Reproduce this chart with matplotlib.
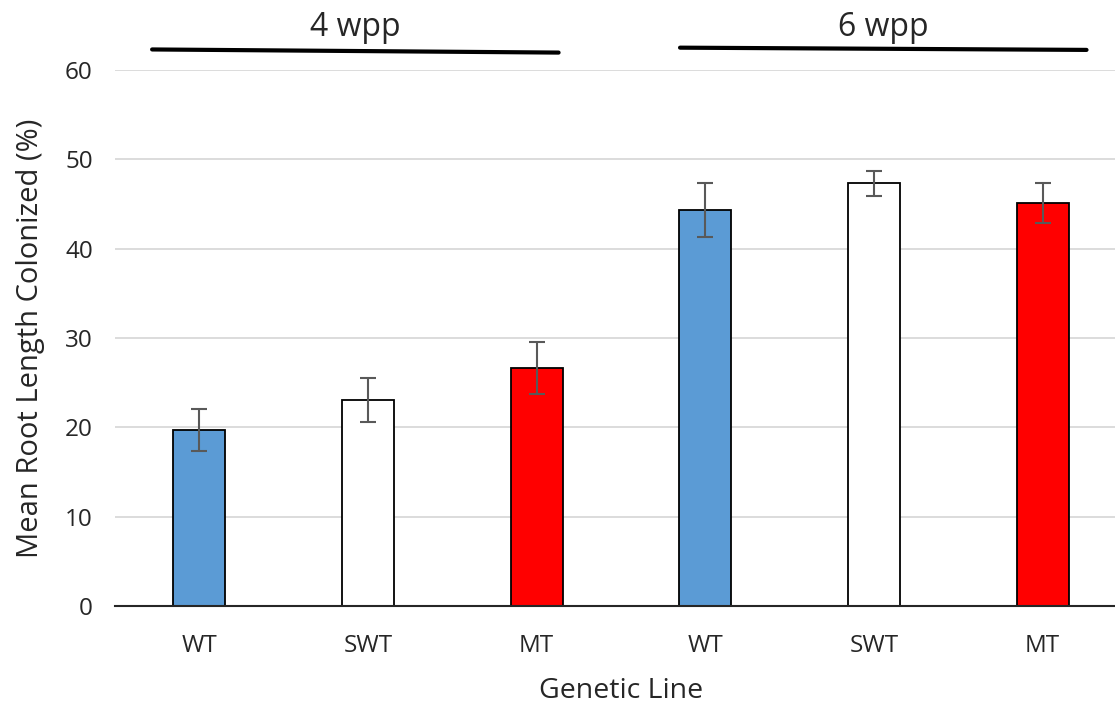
import matplotlib
matplotlib.use("Agg")
import matplotlib.pyplot as plt

categories = ["WT", "SWT", "MT", "WT", "SWT", "MT"]
values = [19.7, 23.1, 26.6, 44.3, 47.3, 45.1]
errors = [2.35, 2.45, 2.9, 3.0, 1.45, 2.25]
colors = ["#5B9BD5", "#FFFFFF", "#FF0000", "#5B9BD5", "#FFFFFF", "#FF0000"]
groups = ["4 wpp", "6 wpp"]
yticks = [0, 10, 20, 30, 40, 50, 60]

plt.rcParams['font.family'] = ['Open Sans', 'DejaVu Sans']

fig = plt.figure(figsize=(11.15, 7.09), dpi=100)
ax = fig.add_axes([115/1115, 1 - 606/709, (1127 - 115)/1115, (606 - 70)/709])

x = list(range(len(categories)))
ax.bar(x, values, width=0.31, color=colors, edgecolor="black", linewidth=1.3, zorder=3)
ax.errorbar(x, values, yerr=errors, fmt="none", ecolor="#595959", elinewidth=1.5,
            capsize=5.8, capthick=1.5, zorder=4)

ax.set_xlim(-0.5, 5.5)
ax.set_ylim(0, 60)
ax.set_yticks(yticks)
ax.set_yticklabels([str(t) for t in yticks], fontsize=17.5, color="#262626")
ax.set_xticks(x)
ax.set_xticklabels(categories, fontsize=17.5, color="#262626")
ax.tick_params(axis="x", length=0, pad=20)
ax.tick_params(axis="y", length=0, pad=16)
ax.grid(axis="y", color="#D9D9D9", linewidth=1.3, zorder=0)
for s in ["top", "right", "left"]:
    ax.spines[s].set_visible(False)
ax.spines["bottom"].set_color("#262626")
ax.spines["bottom"].set_linewidth(1.5)
ax.spines["bottom"].set_zorder(5)

ax.set_xlabel("Genetic Line", fontsize=20.5, color="#262626", labelpad=14)
ax.set_ylabel("Mean Root Length Colonized (%)", fontsize=21, color="#262626", labelpad=14)

# group lines and labels
group_spans = [(-0.28, 2.13, 62.3, 61.95), (2.85, 5.26, 62.5, 62.25)]
for (x0, x1, y0, y1), g in zip(group_spans, groups):
    ax.plot([x0, x1], [y0, y1], color="black", linewidth=3, clip_on=False, solid_capstyle="round")
    ax.text((x0 + x1) / 2, 64.8, g, ha="center", va="center", fontsize=23, color="#262626", clip_on=False)

fig.savefig("out.png", dpi=100)
